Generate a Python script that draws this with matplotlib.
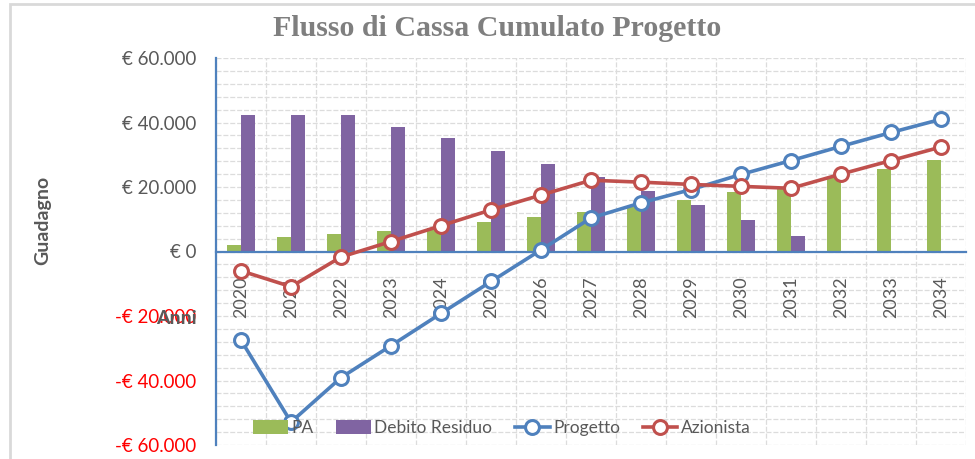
import matplotlib
matplotlib.use('Agg')
import matplotlib.pyplot as plt
from matplotlib.patches import Rectangle
import numpy as np

# data
anni = ['2020', '2021', '2022', '2023', '2024', '2025', '2026', '2027',
        '2028', '2029', '2030', '2031', '2032', '2033', '2034']
pa = [2100, 4400, 5400, 6300, 7400, 9000, 10600, 12300,
      13900, 16100, 18300, 19700, 22800, 25600, 28400]
debito = [42200, 42200, 42200, 38700, 35100, 31100, 27200, 23000,
          18700, 14300, 9700, 4800, 0, 0, 0]
progetto = [-27500, -52900, -39100, -29200, -19200, -9300, 500, 10400,
            15100, 19200, 23900, 28200, 32600, 36900, 41000]
azionista = [-6000, -10900, -1700, 3100, 8000, 12900, 17500, 22100,
             21500, 20800, 20200, 19600, 24000, 28200, 32400]

c_pa = '#9BBB59'
c_deb = '#8064A2'
c_prog = '#4F81BD'
c_az = '#C0504D'
grey = '#595959'

plt.rcParams['font.family'] = ['Lato', 'DejaVu Sans']

fig = plt.figure(figsize=(9.75, 4.59), dpi=100)
ax = fig.add_axes([216/975, 14/459, 750/975, 387/459])

x = np.arange(len(anni))
w = 0.28
b1 = ax.bar(x - w/2, pa, w, color=c_pa, zorder=3, label='PA')
b2 = ax.bar(x + w/2, debito, w, color=c_deb, zorder=3, label='Debito Residuo')
l1, = ax.plot(x, progetto, color=c_prog, lw=2.6, marker='o', ms=10, mfc='white',
              mec=c_prog, mew=2.2, zorder=5, label='Progetto')
l2, = ax.plot(x, azionista, color=c_az, lw=2.6, marker='o', ms=10, mfc='white',
              mec=c_az, mew=2.2, zorder=5, label='Azionista')

ax.set_xlim(-0.5, len(anni) - 0.5)
ax.set_ylim(-60000, 60000)

# grid
for yy in np.arange(-60000, 60001, 4000):
    ax.axhline(yy, color='#dcdcdc', lw=0.9, ls=(0, (4, 1.5)), zorder=1)
for xx in np.arange(-0.5, len(anni), 1):
    ax.axvline(xx, color='#dcdcdc', lw=0.9, ls=(0, (4, 1.5)), zorder=1)

for s in ['top', 'right']:
    ax.spines[s].set_visible(False)
ax.spines['left'].set_color(c_prog)
ax.spines['left'].set_linewidth(1.6)
ax.spines['bottom'].set_position(('data', 0))
ax.spines['bottom'].set_color(c_prog)
ax.spines['bottom'].set_linewidth(1.6)
ax.spines['bottom'].set_zorder(4)

ax.set_xticks(x)
ax.set_xticklabels(anni, rotation=90, fontsize=13, color=grey)
ax.tick_params(axis='x', length=0, pad=18)

yt = np.arange(-60000, 60001, 20000)
ax.set_yticks(yt)
ylabels = []
for v in yt:
    s = '{:,}'.format(abs(int(v))).replace(',', '.')
    ylabels.append(('-€ ' if v < 0 else '€ ') + s)
ax.set_yticklabels(ylabels, fontsize=13.5)
for lab, v in zip(ax.get_yticklabels(), yt):
    lab.set_color('#FF0000' if v < 0 else grey)
ax.tick_params(axis='y', length=0, pad=14)

fig.text(497/975, 1 - 29/459, 'Flusso di Cassa Cumulato Progetto',
         ha='center', va='center', fontsize=21.5, fontweight='bold',
         color='#7f7f7f', family='Liberation Serif')
fig.text(43/975, 1 - 220/459, 'Guadagno', rotation=90, ha='center',
         va='center', fontsize=14, fontweight='bold', color=grey)
fig.text(197/975, 1 - 318/459, 'Anni', ha='right', va='center',
         fontsize=14, fontweight='bold', color=grey)

ax.legend([b1, b2, l1, l2], ['PA', 'Debito Residuo', 'Progetto', 'Azionista'],
          loc='center', ncol=4, frameon=False,
          bbox_to_anchor=(502/975, 1 - 428/459), bbox_transform=fig.transFigure,
          fontsize=12.5, labelcolor=grey, handlelength=2.0, handleheight=0.9,
          handletextpad=0.2, columnspacing=1.3)

# outer chart border
fig.patches.append(Rectangle((10/975, -0.05), 1.0, 1 - 4.5/459 + 0.05,
                             transform=fig.transFigure, fill=False,
                             edgecolor='#d9d9d9', lw=2))

fig.savefig('out.png', dpi=100)
